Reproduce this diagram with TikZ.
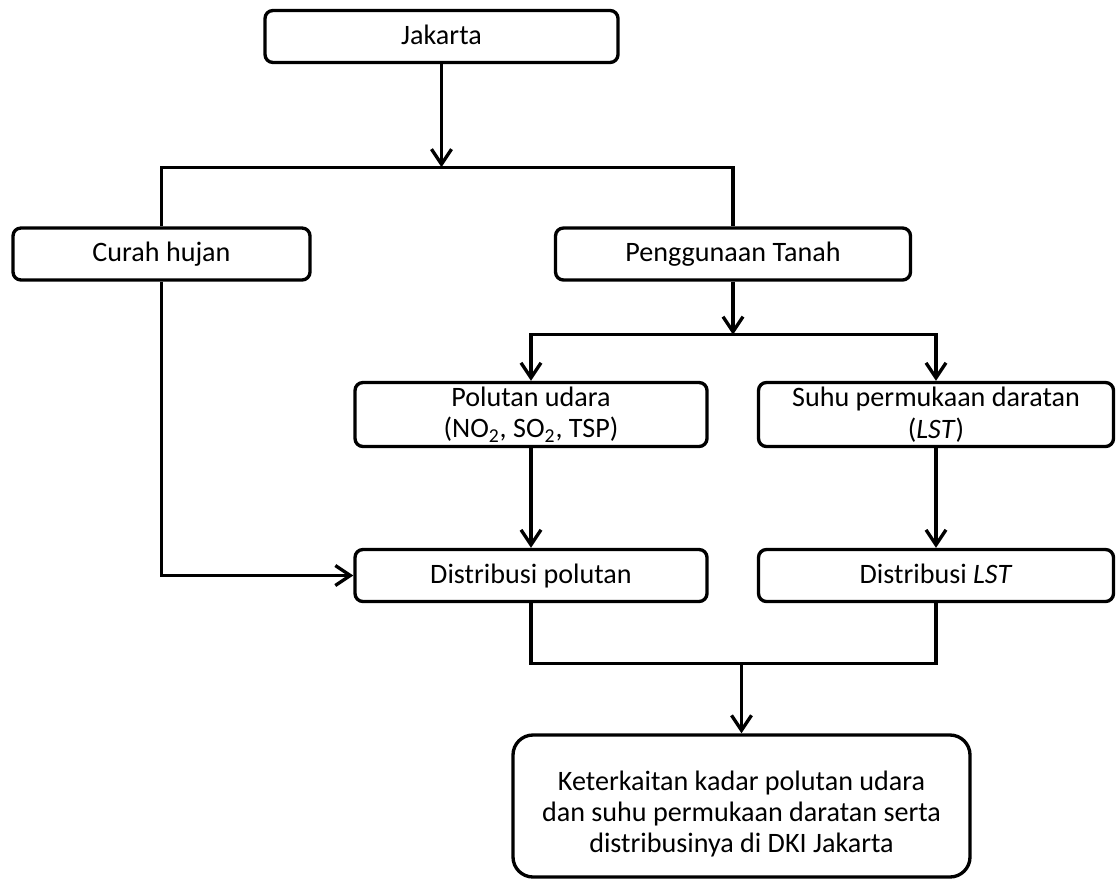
\documentclass[tikz,border=0pt]{standalone}
\usepackage{fontspec}
\setmainfont{Carlito}
\usetikzlibrary{calc}
\usetikzlibrary{positioning}
\usetikzlibrary{arrows.meta}
\tikzstyle{boxnode} = [draw, rectangle, rounded corners=0.16cm, line width=1.9pt, minimum height=1.04cm, inner sep=0pt, align=center, font=\fontsize{16}{18}\selectfont]
\tikzstyle{oneline} = [text height=2.3ex, text depth=0.45ex]
\tikzstyle{link} = [line width=1.9pt]
\tikzstyle{flowarrow} = [link, -{Straight Barb[length=0.3cm, width=0.4cm]}]

\begin{document}
\begin{tikzpicture}
\useasboundingbox (0,0) rectangle (22.38,-17.58);
\node[boxnode, oneline, minimum width=7.06cm] (jakarta) at (8.83,-0.73) {Jakarta};
\node[boxnode, oneline, minimum width=5.94cm] (curah) at ($(jakarta)+(-5.6,-4.35)$) {Curah hujan};
\node[boxnode, oneline, minimum width=7.1cm] (tanah) at ($(jakarta)+(5.83,-4.35)$) {Penggunaan Tanah};
\node[boxnode, minimum width=7.04cm, minimum height=1.28cm] (polutan) at ($(tanah)+(-4.04,-3.21)$) {Polutan udara\\(NO\textsubscript{2}, SO\textsubscript{2}, TSP)};
\node[boxnode, minimum width=7.1cm, minimum height=1.28cm] (suhu) at ($(tanah)+(4.06,-3.21)$) {Suhu permukaan daratan\\(\textit{LST})};
\node[boxnode, oneline, minimum width=7.04cm] (dpol) at ($(polutan)+(0,-3.22)$) {Distribusi polutan};
\node[boxnode, oneline, minimum width=7.1cm] (dlst) at ($(suhu)+(0,-3.22)$) {Distribusi \textit{LST}};
\node[boxnode, minimum width=9.14cm, minimum height=2.84cm, rounded corners=0.4cm, text height=1.97cm, text depth=3.5pt, font=\fontsize{16}{17.6}\selectfont] (final) at (14.83,-16.12) {Keterkaitan kadar polutan udara\\dan suhu permukaan daratan serta\\distribusinya di DKI Jakarta};
\coordinate (split) at ($(jakarta.south)+(0,-2.06)$);
\coordinate (split2) at ($(tanah.south)+(0,-1.06)$);
\coordinate (merge) at ($(final.north)+(0,1.4)$);
\draw[flowarrow] (jakarta.south) -- (split);
\draw[link] (curah.north) |- (split) -| (tanah.north);
\draw[flowarrow] (tanah.south) -- (split2);
\draw[flowarrow] (split2) -| (polutan.north);
\draw[flowarrow] (split2) -| (suhu.north);
\draw[flowarrow] (polutan) -- (dpol);
\draw[flowarrow] (suhu) -- (dlst);
\draw[flowarrow] (curah.south) |- (dpol.west);
\draw[link] (dpol.south) |- (merge) -| (dlst.south);
\draw[flowarrow] (merge) -- (final.north);
\end{tikzpicture}
\end{document}
